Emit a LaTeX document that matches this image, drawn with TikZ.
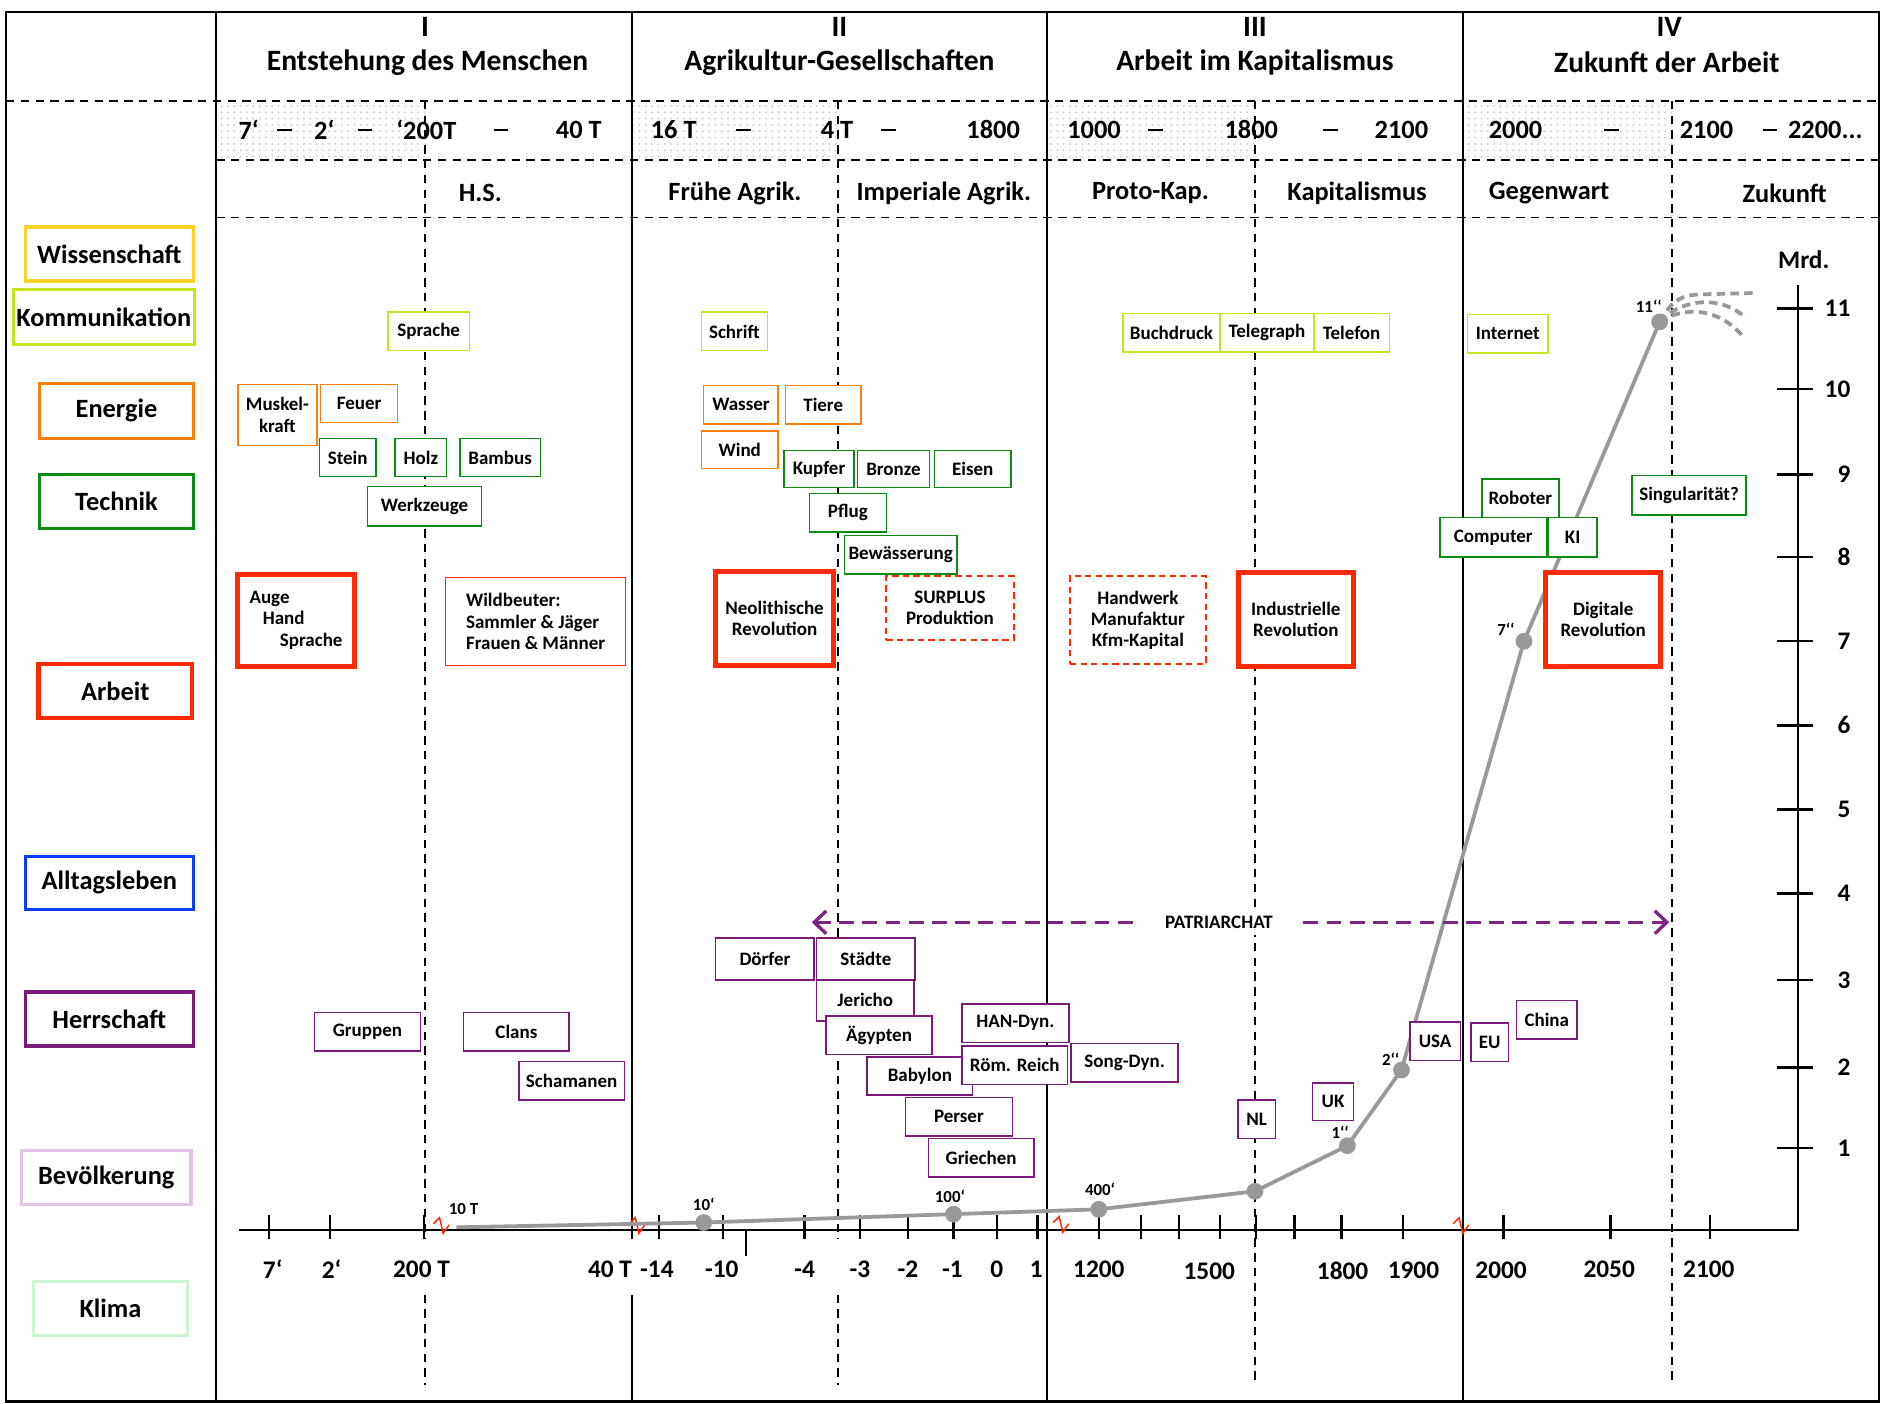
\documentclass[tikz,border=0pt]{standalone}
\usepackage{fontspec}
\setmainfont{Carlito}
\usetikzlibrary{arrows.meta,patterns}

\definecolor{wissC}{RGB}{255,208,40}
\definecolor{kommC}{RGB}{200,228,30}
\definecolor{enerC}{RGB}{255,125,10}
\definecolor{techC}{RGB}{10,140,20}
\definecolor{arbC}{RGB}{255,42,0}
\definecolor{alltC}{RGB}{10,60,255}
\definecolor{herrC}{RGB}{122,26,122}
\definecolor{bevC}{RGB}{225,195,230}
\definecolor{klimC}{RGB}{205,245,212}
\definecolor{popC}{RGB}{153,153,153}
\definecolor{patC}{RGB}{125,35,130}

\newcommand{\bis}{\vphantom{0}\rule[0.26em]{0.55em}{0.1em}}

\begin{document}
\begin{tikzpicture}[%
  x = 0.2mm, y = -0.2mm,
  frame/.style = {line width=1pt},
  sep/.style = {line width=0.8pt, dash pattern=on 4pt off 3pt},
  axis/.style = {line width=1.1pt},
  shade/.style = {pattern=dots, pattern color=black!20},
  hdr/.style = {font=\fontsize{14}{16}\selectfont\bfseries},
  dat/.style = {font=\fontsize{12.5}{14}\selectfont\bfseries},
  num/.style = {font=\fontsize{12}{14}\selectfont\bfseries},
  tiny/.style = {font=\fontsize{8}{9}\selectfont\bfseries, inner sep=0pt},
  sz/.style 2 args = {minimum width=#1*0.2mm, minimum height=#2*0.2mm},
  cat/.style = {draw=#1, line width=1.5pt, inner sep=0pt,
    font=\fontsize{12.5}{14}\selectfont\bfseries},
  box/.style = {draw=#1, fill=white, line width=0.7pt, inner sep=0pt,
    align=center, font=\fontsize{9}{10}\selectfont\bfseries},
  big/.style = {box=arbC, line width=2.4pt},
  plan/.style = {box=arbC, line width=0.9pt, dash pattern=on 3pt off 2pt},
  pdot/.style = {circle, fill=popC, inner sep=0pt, minimum size=2.8mm},
  pop/.style = {draw=popC, line width=1.8pt},
  fut/.style = {draw=popC, line width=1.8pt, dash pattern=on 4pt off 2.5pt},
  brk/.style = {draw=arbC, line width=0.7pt},
  patri/.style = {draw=patC, line width=1.6pt, dash pattern=on 7pt off 4pt},
  barb/.tip = {Straight Barb[length=2mm, width=3.8mm]},
]
  \useasboundingbox (0,0) rectangle (1568,1169);

  \fill[shade] (180,84) rectangle (354,133) (526,84) rectangle (698,133)
    (872,84) rectangle (1045,133) (1218,84) rectangle (1392,133);

  \draw[frame] (5,10) rectangle (1565,1167);
  \draw[frame] (180,10) -- (180,1167)
    (526,10) -- (526,1032) (526,1078) -- (526,1167)
    (872,10) -- (872,1167)
    (1218,10) -- (1218,1167);

  \draw[sep] (5,84) -- (1565,84) (180,133) -- (1565,133) (180,181) -- (1565,181);
  \draw[sep] (354,84) -- (354,1032) (354,1078) -- (354,1153)
    (698,84) -- (698,1032) (698,1078) -- (698,1153)
    (1045,84) -- (1045,1153)
    (1392,84) -- (1392,1153);

  \node[hdr] (nI) at (354,22) {I};
  \node[hdr] (tI) at (356,52) {Entstehung des Menschen};
  \node[hdr] (nII) at (699,22) {II};
  \node[hdr] (tII) at (699,52) {Agrikultur-Gesellschaften};
  \node[hdr] (nIII) at (1045,22) {III};
  \node[hdr] (tIII) at (1045,52) {Arbeit im Kapitalismus};
  \node[hdr] (nIV) at (1390,22) {IV};
  \node[hdr] (tIV) at (1388,52) {Zukunft der Arbeit};

  \node[dat] (dI1) at (207,108) {7‘};
  \node[dat] (dI2) at (237,108) {\bis};
  \node[dat] (dI3) at (270,108) {2‘};
  \node[dat] (dI4) at (304,108) {\bis};
  \node[dat] (dI5) at (355,108) {‘200T};
  \node[dat] (dI6) at (417,108) {\bis};
  \node[dat] (dI7) at (482,108) {40 T};
  \node[dat] (dII1) at (561,108) {16 T};
  \node[dat] (dII2) at (619,108) {\bis};
  \node[dat] (dII3) at (697,108) {4 T};
  \node[dat] (dII4) at (740,108) {\bis};
  \node[dat] (dII5) at (827,108) {1800};
  \node[dat] (dIII1) at (911,108) {1000};
  \node[dat] (dIII2) at (962,108) {\bis};
  \node[dat] (dIII3) at (1042,108) {1800};
  \node[dat] (dIII4) at (1108,108) {\bis};
  \node[dat] (dIII5) at (1167,108) {2100};
  \node[dat] (dIV1) at (1262,108) {2000};
  \node[dat] (dIV2) at (1342,108) {\bis};
  \node[dat] (dIV3) at (1421,108) {2100};
  \node[dat] (dIV4) at (1474,108) {\bis};
  \node[dat] (dIV5) at (1520,108) {2200...};

  \node[dat] (sHS) at (400,161) {H.S.};
  \node[dat] (sFA) at (612,161) {Frühe Agrik.};
  \node[dat] (sIA) at (786,161) {Imperiale Agrik.};
  \node[dat] (sPK) at (958,161) {Proto-Kap.};
  \node[dat] (sKA) at (1130,161) {Kapitalismus};
  \node[dat] (sGW) at (1290,161) {Gegenwart};
  \node[dat] (sZK) at (1486,161) {Zukunft};

  \node[cat=wissC, sz={140}{45}] (cWiss) at (91,211.5) {Wissenschaft};
  \node[cat=kommC, sz={151}{46}] (cKomm) at (86.5,264) {Kommunikation};
  \node[cat=enerC, sz={128}{46}] (cEner) at (97,342) {Energie};
  \node[cat=techC, sz={128}{45}] (cTech) at (97,417.5) {Technik};
  \node[cat=arbC, sz={128}{45}, line width=2pt] (cArb) at (96,575.5) {Arbeit};
  \node[cat=alltC, sz={140}{44}] (cAllt) at (91,735) {Alltagsleben};
  \node[cat=herrC, sz={140}{45}] (cHerr) at (91,848.5) {Herrschaft};
  \node[cat=bevC, sz={141}{45}] (cBev) at (88.5,980.5) {Bevölkerung};
  \node[cat=klimC, sz={128}{45}] (cKlim) at (92,1089.5) {Klima};

  \draw[axis] (199,1024) -- (1497,1024) -- (1497,237);
  \draw[axis] (224,1012) -- (224,1032) (275,1012) -- (275,1032)
    (353,1012) -- (353,1032) (549,1012) -- (549,1032) (602,1012) -- (602,1032)
    (621,1024) -- (621,1046) (670,1012) -- (670,1032) (716,1012) -- (716,1032)
    (756,1012) -- (756,1032) (794,1012) -- (794,1032) (830,1012) -- (830,1032)
    (864,1012) -- (864,1032) (915,1012) -- (915,1032) (950,1012) -- (950,1032)
    (982,1012) -- (982,1032) (1016,1012) -- (1016,1032) (1046,1012) -- (1046,1032)
    (1078,1012) -- (1078,1032) (1117,1012) -- (1117,1032) (1168,1012) -- (1168,1032)
    (1252,1012) -- (1252,1032) (1341,1012) -- (1341,1032) (1424,1012) -- (1424,1032);
  \draw[axis] (1480,257) -- (1510,257) (1480,324) -- (1510,324)
    (1480,395) -- (1510,395) (1480,464) -- (1510,464) (1480,534) -- (1510,534)
    (1480,604) -- (1510,604) (1480,674) -- (1510,674) (1480,744) -- (1510,744)
    (1480,816) -- (1510,816) (1480,889) -- (1510,889) (1480,956) -- (1510,956);

  \node[num] (mrd) at (1502,216) {Mrd.};
  \node[num, anchor=east] (r11) at (1547,257) {11};
  \node[num, anchor=east] (r10) at (1547,324) {10};
  \node[num, anchor=east] (r9) at (1547,395) {9};
  \node[num, anchor=east] (r8) at (1547,464) {8};
  \node[num, anchor=east] (r7) at (1547,534) {7};
  \node[num, anchor=east] (r6) at (1547,604) {6};
  \node[num, anchor=east] (r5) at (1547,674) {5};
  \node[num, anchor=east] (r4) at (1547,744) {4};
  \node[num, anchor=east] (r3) at (1547,816) {3};
  \node[num, anchor=east] (r2) at (1547,889) {2};
  \node[num, anchor=east] (r1) at (1547,956) {1};

  \node[num] (a1) at (227,1057) {7‘};
  \node[num] (a2) at (276,1057) {2‘};
  \node[num] (a3) at (351,1057) {200 T};
  \node[num] (a4) at (508,1057) {40 T};
  \node[num] (a5) at (547,1057) {-14};
  \node[num] (a6) at (601,1057) {-10};
  \node[num] (a7) at (670,1057) {-4};
  \node[num] (a8) at (716,1057) {-3};
  \node[num] (a9) at (756,1057) {-2};
  \node[num] (a10) at (793,1057) {-1};
  \node[num] (a11) at (830,1057) {0};
  \node[num] (a12) at (863,1057) {1};
  \node[num] (a13) at (915,1057) {1200};
  \node[num] (a14) at (1007,1059) {1500};
  \node[num] (a15) at (1118,1058) {1800};
  \node[num] (a16) at (1177,1058) {1900};
  \node[num] (a17) at (1250,1058) {2000};
  \node[num] (a18) at (1340,1057) {2050};
  \node[num] (a19) at (1423,1057) {2100};

  \coordinate (z1) at (368,1022);
  \coordinate (z2) at (531,1022);
  \coordinate (z3) at (884,1021);
  \coordinate (z4) at (1217,1022);
  \draw[brk] (z1) ++(-7,-3) -- ++(5,-5) -- ++(3,13) -- ++(5,-7);
  \draw[brk] (z2) ++(-7,-3) -- ++(5,-5) -- ++(3,13) -- ++(5,-7);
  \draw[brk] (z3) ++(-7,-3) -- ++(5,-5) -- ++(3,13) -- ++(5,-7);
  \draw[brk] (z4) ++(-7,-3) -- ++(5,-5) -- ++(3,13) -- ++(5,-7);

  \coordinate (g0) at (380,1022);
  \node[pdot] (p1) at (586,1018) {};
  \node[pdot] (p2) at (794,1011) {};
  \node[pdot] (p3) at (915,1007) {};
  \node[pdot] (p4) at (1045,992) {};
  \node[pdot] (p5) at (1122,954) {};
  \node[pdot] (p6) at (1167,891) {};
  \node[pdot] (p7) at (1269,534) {};
  \node[pdot] (p8) at (1382,268) {};
  \draw[pop] (g0) -- (p1.center) -- (p2.center) -- (p3.center) -- (p4.center)
    -- (p5.center) -- (p6.center) -- (p7.center) -- (p8.center);

  \coordinate (f1) at (1460,244);
  \coordinate (f2) at (1454,265);
  \coordinate (f3) at (1452,281);
  \draw[fut] (p8.center) .. controls (1392,250) and (1400,245) .. (1420,245) -- (f1);
  \draw[fut] (p8.center) .. controls (1398,250) and (1432,244) .. (f2);
  \draw[fut] (p8.center) .. controls (1400,256) and (1430,254) .. (f3);

  \node[tiny] (l0) at (386,1007) {10 T};
  \node[tiny] (l1) at (586,1003) {10‘};
  \node[tiny] (l2) at (791,996) {100‘};
  \node[tiny] (l3) at (916,990) {400‘};
  \node[tiny] (l5) at (1116,943) {1‘‘};
  \node[tiny] (l6) at (1158,882) {2‘‘};
  \node[tiny] (l7) at (1254,524) {7‘‘};
  \node[tiny] (l8) at (1373,255) {11‘‘};

  \coordinate (pa) at (676,768);
  \coordinate (pb) at (1390,768);
  \draw[patri, barb-barb] (pa) -- (pb);
  \node[fill=white, inner xsep=4mm, inner ysep=1mm,
    font=\fontsize{9}{10}\selectfont\bfseries] (patr) at (1015,768) {PATRIARCHAT};

  \node[box=kommC, sz={68}{32}] (sprache) at (357,276) {Sprache};
  \node[box=kommC, sz={55}{32}] (schrift) at (611.5,276) {Schrift};
  \node[box=kommC, sz={81}{32}] (buchdruck) at (975.5,277) {Buchdruck};
  \node[box=kommC, sz={78}{32}] (telegraph) at (1055,277) {Telegraph};
  \node[box=kommC, sz={63}{32}] (telefon) at (1125.5,277) {Telefon};
  \node[box=kommC, sz={67}{32}] (internet) at (1255.5,278) {Internet};

  \node[box=enerC, sz={66}{51}] (muskel) at (231,345.5) {Muskel-\\kraft};
  \node[box=enerC, sz={64}{32}] (feuer) at (299,336) {Feuer};
  \node[box=enerC, sz={62}{32}] (wasser) at (617,337) {Wasser};
  \node[box=enerC, sz={63}{32}] (tiere) at (685.5,337) {Tiere};
  \node[box=enerC, sz={64}{31}] (wind) at (616,374.5) {Wind};

  \node[box=techC, sz={47}{32}] (stein) at (289.5,381) {Stein};
  \node[box=techC, sz={43}{32}] (holz) at (350.5,381) {Holz};
  \node[box=techC, sz={67}{32}] (bambus) at (416.5,381) {Bambus};
  \node[box=techC, sz={95}{33}] (werkzeuge) at (353.5,421.5) {Werkzeuge};
  \node[box=techC, sz={58}{31}] (kupfer) at (682,390.5) {Kupfer};
  \node[box=techC, sz={60}{31}] (bronze) at (744,390.5) {Bronze};
  \node[box=techC, sz={64}{31}] (eisen) at (810,390.5) {Eisen};
  \node[box=techC, sz={64}{32}] (pflug) at (706,427) {Pflug};
  \node[box=techC, sz={94}{32}] (bewaesserung) at (750,462) {Bewässerung};
  \node[box=techC, sz={64}{32}] (roboter) at (1266,415) {Roboter};
  \node[box=techC, sz={89}{33}] (computer) at (1243.5,447.5) {Computer};
  \node[box=techC, sz={41}{33}] (ki) at (1309.5,447.5) {KI};
  \node[box=techC, sz={95}{33}] (singular) at (1406.5,412.5) {Singularität?};

  \node[big, sz={97}{77}, align=left] (auge) at (246.5,516.5)
    {Auge\\\hspace*{0.7em}Hand\\\hspace*{1.6em}Sprache};
  \node[box=arbC, sz={150}{73}, align=left] (wildbeuter) at (446,517.5)
    {Wildbeuter:\\Sammler \& Jäger\\Frauen \& Männer};
  \node[big, sz={98}{78}] (neolith) at (645,515) {Neolithische\\Revolution};
  \node[plan, sz={106}{53}] (surplus) at (791,506.5) {SURPLUS\\Produktion};
  \node[plan, sz={113}{73}] (handwerk) at (947.5,516.5) {Handwerk\\Manufaktur\\Kfm-Kapital};
  \node[big, sz={96}{78}] (industrie) at (1079,516) {Industrielle\\Revolution};
  \node[big, sz={96}{78}] (digital) at (1335,516) {Digitale\\Revolution};

  \node[box=herrC, sz={88}{32}] (gruppen) at (306,859) {Gruppen};
  \node[box=herrC, sz={88}{32}] (clans) at (430,859) {Clans};
  \node[box=herrC, sz={88}{32}] (schamanen) at (476,900) {Schamanen};
  \node[box=herrC, sz={82}{35}] (doerfer) at (637,798.5) {Dörfer};
  \node[box=herrC, sz={82}{35}] (staedte) at (721,798.5) {Städte};
  \node[box=herrC, sz={81}{34}] (jericho) at (720.5,833) {Jericho};
  \node[box=herrC, sz={88}{32}] (aegypten) at (732,862) {Ägypten};
  \node[box=herrC, sz={89}{32}] (han) at (845.5,852) {HAN-Dyn.};
  \node[box=herrC, sz={88}{32}] (babylon) at (766,896) {Babylon};
  \node[box=herrC, sz={88}{32}] (rom) at (845,887) {Röm. Reich};
  \node[box=herrC, sz={89}{32}] (song) at (936.5,885) {Song-Dyn.};
  \node[box=herrC, sz={89}{32}] (perser) at (798.5,930) {Perser};
  \node[box=herrC, sz={88}{32}] (griechen) at (817,964) {Griechen};
  \node[box=herrC, sz={31}{32}] (nl) at (1046.5,932) {NL};
  \node[box=herrC, sz={34}{31}] (uk) at (1110,917.5) {UK};
  \node[box=herrC, sz={42}{32}] (usa) at (1195,867) {USA};
  \node[box=herrC, sz={31}{32}] (eu) at (1240.5,868) {EU};
  \node[box=herrC, sz={50}{32}] (china) at (1288,849) {China};
\end{tikzpicture}
\end{document}
